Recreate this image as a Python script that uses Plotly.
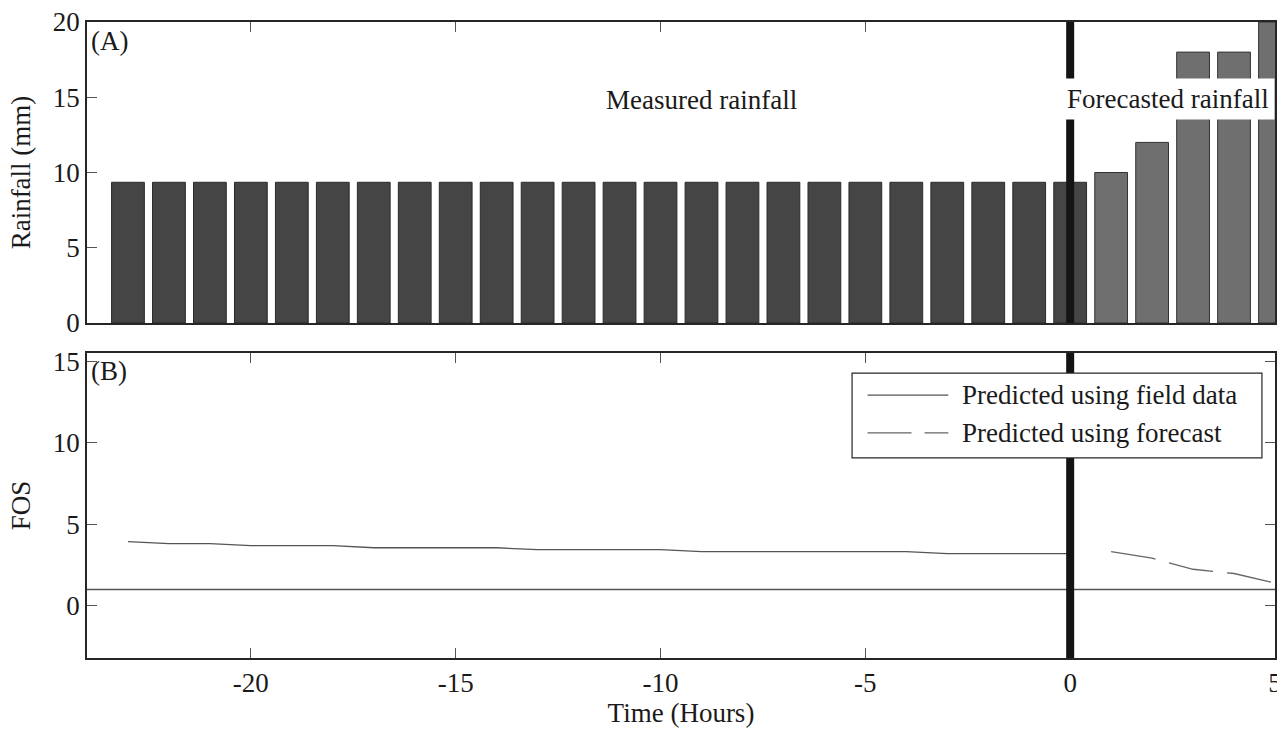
import plotly.graph_objects as go
from plotly.subplots import make_subplots

# ---- data ----
hours_measured = list(range(-23, 1))
rain_measured = [9.35] * 24
hours_forecast = [1, 2, 3, 4, 5]
rain_forecast = [10.0, 12.0, 18.0, 18.0, 20.0]

fos_hours = list(range(-23, 1))
fos_field = [3.93, 3.81, 3.81, 3.69, 3.69, 3.69, 3.56, 3.56, 3.56, 3.56,
             3.44, 3.44, 3.44, 3.44, 3.32, 3.32, 3.32, 3.32, 3.32, 3.32,
             3.20, 3.20, 3.20, 3.20]
fcst_hours = [1, 2, 3, 4, 5]
fos_forecast = [3.32, 2.92, 2.24, 1.98, 1.40]
fos_threshold = 1.0

x_tickvals = [-20, -15, -10, -5, 0, 5]
x_ticktext = ["-20", "-15", "-10", "-5", "0", "5"]
rain_ticks = [0, 5, 10, 15, 20]
fos_ticks = [0, 5, 10, 15]

FONT = "Liberation Serif"
INK = "#1a1a1a"

fig = make_subplots(rows=2, cols=1, vertical_spacing=0.0)

fig.add_trace(go.Bar(x=hours_measured, y=rain_measured, width=0.8,
                     marker=dict(color="#454545", line=dict(color="#2a2a2a", width=1)),
                     showlegend=False), row=1, col=1)
fig.add_trace(go.Bar(x=hours_forecast, y=rain_forecast, width=0.8,
                     marker=dict(color="#6f6f6f", line=dict(color="#333333", width=1)),
                     showlegend=False), row=1, col=1)

fig.add_trace(go.Scatter(x=fos_hours, y=fos_field, mode="lines",
                         line=dict(color="#555555", width=1.3),
                         name="Predicted using field data", showlegend=False), row=2, col=1)
fig.add_trace(go.Scatter(x=fcst_hours, y=fos_forecast, mode="lines",
                         line=dict(color="#666666", width=1.3, dash="45px,14px"),
                         name="Predicted using forecast", showlegend=False), row=2, col=1)
fig.add_trace(go.Scatter(x=[-24, 5], y=[fos_threshold, fos_threshold], mode="lines",
                         line=dict(color="#555555", width=1.5),
                         showlegend=False, hoverinfo="skip"), row=2, col=1)

axis_common = dict(showgrid=False, zeroline=False, showline=True, linecolor="#262626",
                   linewidth=1.5, mirror="ticks", ticks="inside", ticklen=10,
                   tickcolor="#555555", tickwidth=1, automargin=False,
                   ticklabeloverflow="allow",
                   tickfont=dict(family=FONT, size=27, color=INK))

fig.update_xaxes(axis_common, range=[-24, 5], tickvals=x_tickvals, ticktext=x_ticktext)
fig.update_xaxes(showticklabels=False, layer="below traces", row=1, col=1)
fig.update_xaxes(title=dict(text="Time (Hours)", font=dict(family=FONT, size=27, color=INK),
                            standoff=2), row=2, col=1)

fig.update_yaxes(axis_common)
fig.update_yaxes(range=[0, 20], tickvals=rain_ticks, layer="below traces",
                 title=dict(text="Rainfall (mm)", font=dict(family=FONT, size=27, color=INK),
                            standoff=14), row=1, col=1)
fig.update_yaxes(range=[-3.2, 15.5], tickvals=fos_ticks,
                 title=dict(text="FOS", font=dict(family=FONT, size=27, color=INK),
                            standoff=14), row=2, col=1)

fig.update_layout(
    xaxis=dict(domain=[0, 1]), yaxis=dict(domain=[0.5267, 1.0]),
    xaxis2=dict(domain=[0, 1]), yaxis2=dict(domain=[0.0, 0.4796]),
)

# vertical "now" line in both panels
for xr, yr in (("x", "y domain"), ("x2", "y2 domain")):
    fig.add_shape(type="line", xref=xr, yref=yr, x0=0, x1=0, y0=0, y1=1,
                  line=dict(color="#141414", width=8), layer="above")

# manual legend (bottom panel)
fig.add_shape(type="rect", xref="x2 domain", yref="y2 domain",
              x0=0.644, x1=0.989, y0=0.656, y1=0.934,
              fillcolor="white", line=dict(color="#262626", width=1.2), layer="above")
fig.add_shape(type="line", xref="x2 domain", yref="y2 domain",
              x0=0.657, x1=0.725, y0=0.862, y1=0.862,
              line=dict(color="#555555", width=1.3), layer="above")
fig.add_shape(type="line", xref="x2 domain", yref="y2 domain",
              x0=0.657, x1=0.725, y0=0.738, y1=0.738,
              line=dict(color="#666666", width=1.3, dash="44px,13px"), layer="above")

annos = [
    dict(text="Predicted using field data", xref="x2 domain", yref="y2 domain",
         x=0.735, y=0.862, xanchor="left", yanchor="middle"),
    dict(text="Predicted using forecast", xref="x2 domain", yref="y2 domain",
         x=0.735, y=0.738, xanchor="left", yanchor="middle"),
    dict(text="(A)", xref="x domain", yref="y domain", x=0.002, y=0.995,
         xanchor="left", yanchor="top"),
    dict(text="(B)", xref="x2 domain", yref="y2 domain", x=0.002, y=0.995,
         xanchor="left", yanchor="top"),
    dict(text="Measured rainfall", xref="x", yref="y", x=-9.0, y=14.85,
         xanchor="center", yanchor="middle"),
    dict(text="Forecasted rainfall", xref="x", yref="y", x=2.4, y=14.9,
         xanchor="center", yanchor="middle", bgcolor="white", borderpad=5),
]
for a in annos:
    fig.add_annotation(showarrow=False, font=dict(family=FONT, size=27, color=INK), **a)

fig.update_layout(
    width=1277, height=731,
    margin=dict(l=87, r=2, t=22, b=73),
    plot_bgcolor="white", paper_bgcolor="white",
    bargap=0.2, showlegend=False,
    font=dict(family=FONT, size=27, color=INK),
)

fig.write_html("out.html", config={"displayModeBar": False},
               post_script="document.body.style.margin='0';document.body.style.overflow='hidden';")
